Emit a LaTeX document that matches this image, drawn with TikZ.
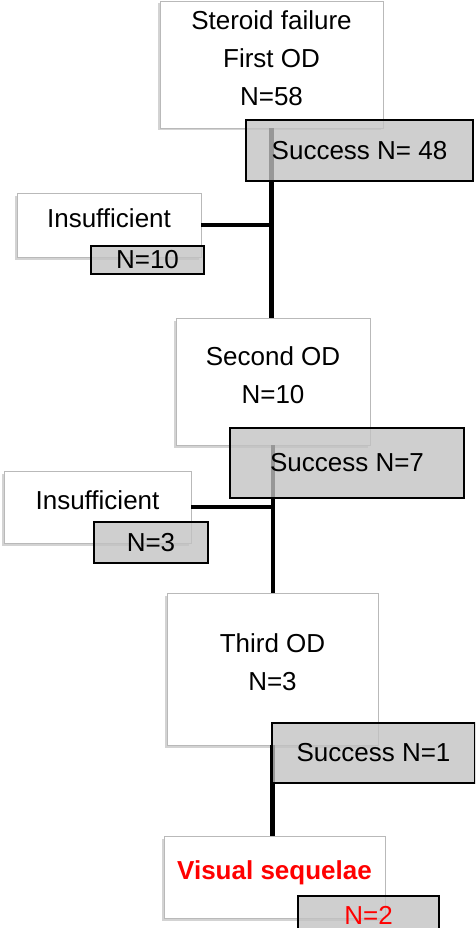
\documentclass[tikz,border=0pt]{standalone}
\usepackage{fontspec}
\setmainfont{Liberation Sans}
\usetikzlibrary{shadows}

\begin{document}
\begin{tikzpicture}[
    % one unit is one pixel of the original, y runs downwards
    x=1pt, y=-1pt,
    % text size
    font=\fontsize{26}{38}\selectfont,
    whitebox/.style = {draw=gray!55, line width=0.8pt, fill=white, inner sep=0pt,
                       align=center, text depth=13pt,
                       drop shadow={shadow xshift=-2pt, shadow yshift=-2.5pt, opacity=.35}},
    graybox/.style = {draw=black, line width=1.2pt, fill=black!24, fill opacity=.78,
                      text opacity=1, inner sep=0pt},
    line/.style = {draw=black, line width=4.5pt}
    ]

    \useasboundingbox (0,0) rectangle (475,928);
    \clip (0,0) rectangle (475,928);

    \coordinate (F) at (271.5, 64.5);
    \coordinate (S) at (273, 381.5);
    \coordinate (T) at (272.5, 669);
    \coordinate (V) at (274.5, 877);

    \coordinate (I1) at (109, 225);
    \coordinate (I2) at (97.5, 507);

    % stages
    \node (First)  [whitebox, minimum width=223, minimum height=127] at (F) {Steroid failure\\First OD\\N=58};
    \node (Second) [whitebox, minimum width=194, minimum height=127] at (S) {Second OD\\N=10};
    \node (Third)  [whitebox, minimum width=211, minimum height=152] at (T) {Third OD\\N=3};
    \node (Visual) [whitebox, minimum width=221, minimum height=82, text=red, font=\fontsize{26}{38}\selectfont\bfseries] at (V) {Visual sequelae};

    \node (Insuf1) [whitebox, minimum width=184, minimum height=64] at (I1) {Insufficient};
    \node (Insuf2) [whitebox, minimum width=187, minimum height=72] at (I2) {Insufficient};

    % edges
    \path[line] (First.south) -- (First.south |- Second.north);
    \path[line] (Second.south) -- (Second.south |- Third.north);
    \path[line] (Third.south) -- (Third.south |- Visual.north);

    \path[line] (Insuf1.east) -- (Insuf1.east -| First.south);
    \path[line] (Insuf2.east) -- (Insuf2.east -| Second.south);

    % counts
    \node (Succ1) [graybox, minimum width=227, minimum height=61] at (359.5, 150.5) {Success N= 48};
    \node (Succ2) [graybox, minimum width=234, minimum height=70] at (347, 463) {Success N=7};
    \node (Succ3) [graybox, minimum width=203, minimum height=60] at (373.5, 753) {Success N=1};

    \node (N10) [graybox, minimum width=113, minimum height=28] at (147.5, 260) {N=10};
    \node (N3)  [graybox, minimum width=114, minimum height=41] at (151, 542.5) {N=3};
    \node (N2)  [graybox, minimum width=141, minimum height=38, text=red] at (368.5, 915) {N=2};
\end{tikzpicture}
\end{document}
